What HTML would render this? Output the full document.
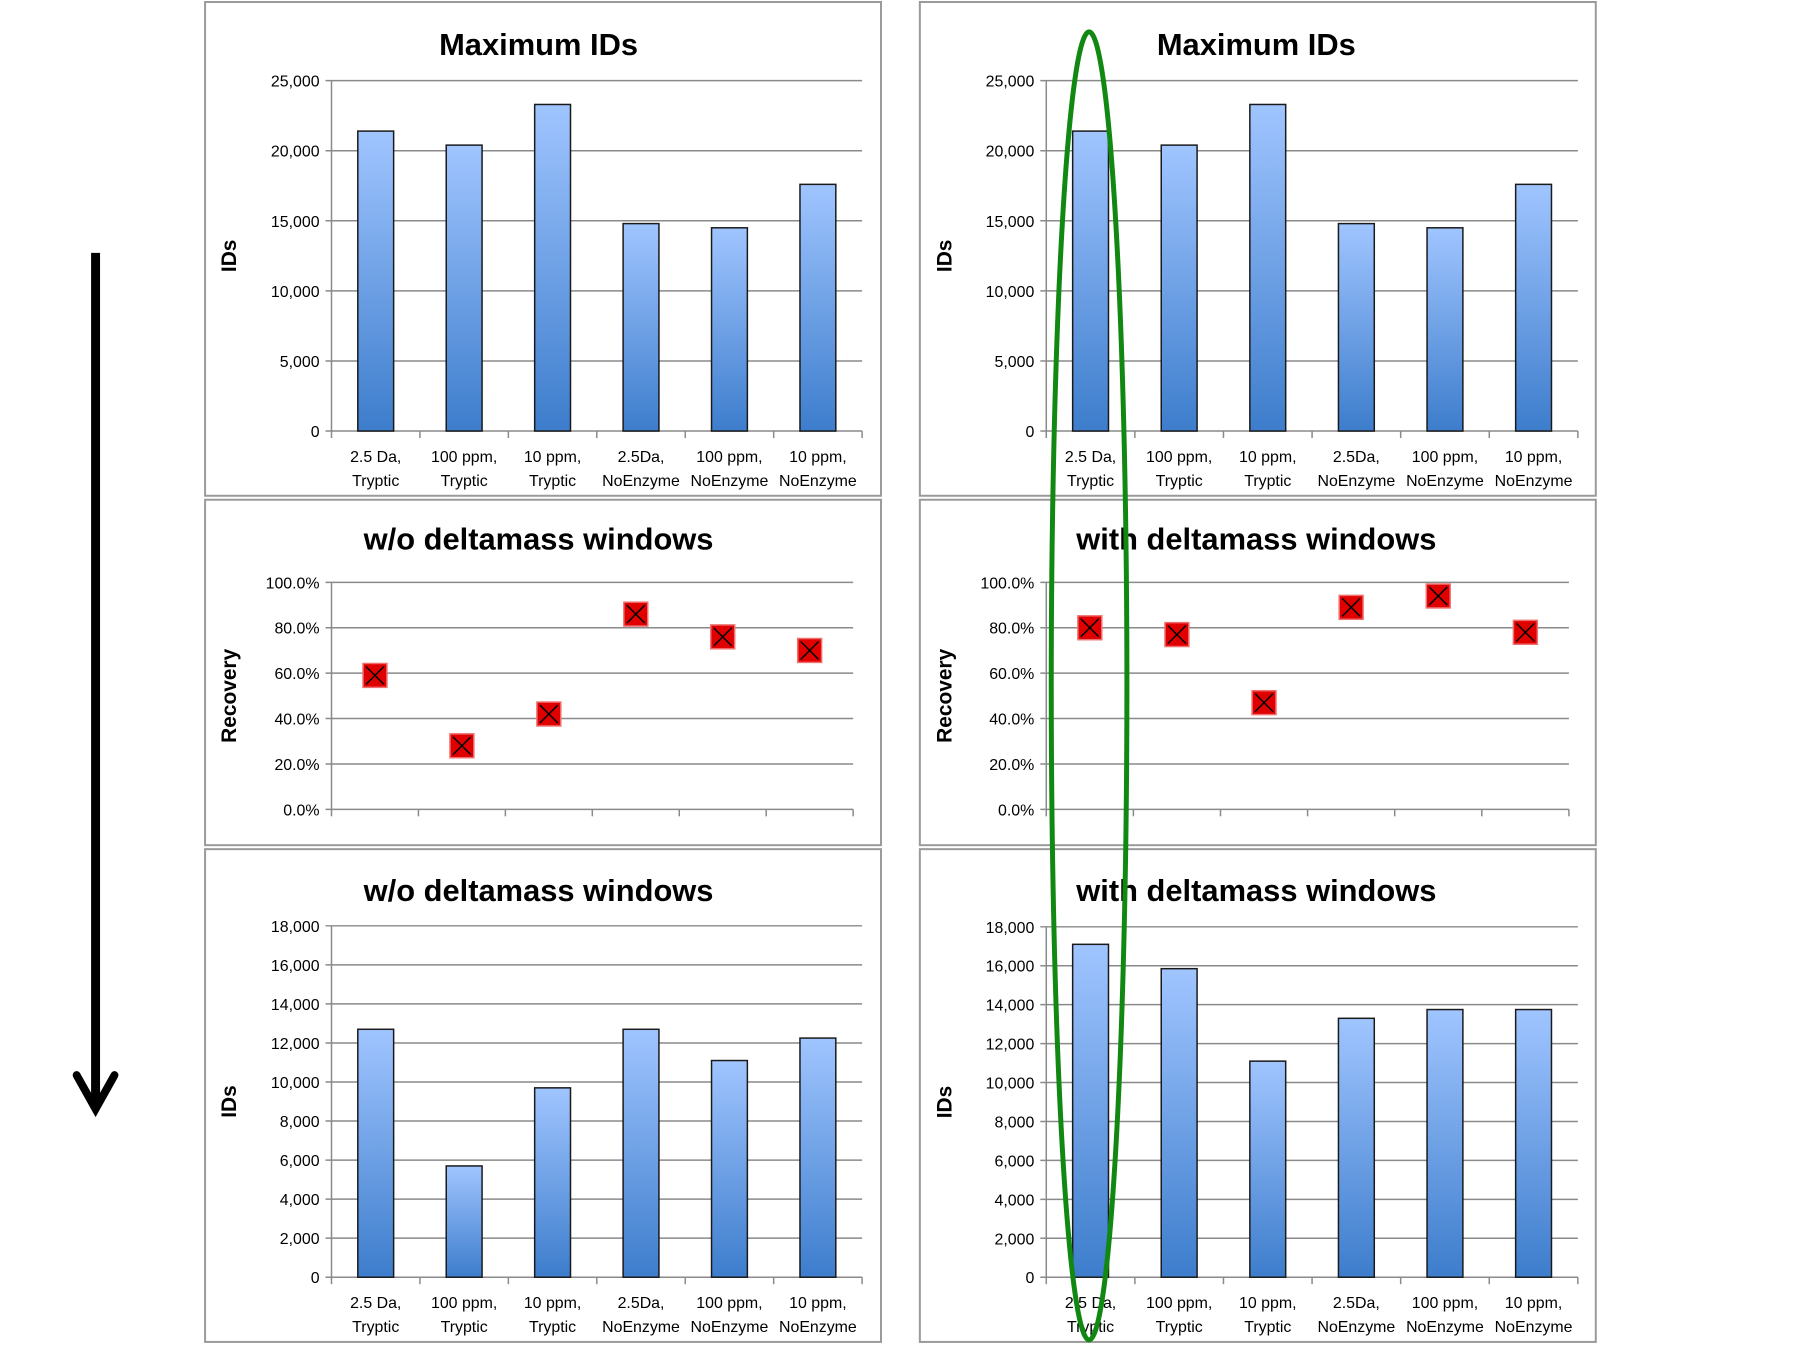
<!DOCTYPE html>
<html><head><meta charset="utf-8"><style>
html,body{margin:0;padding:0;background:#fff;width:1800px;height:1350px;overflow:hidden}
svg text{font-family:"Liberation Sans",sans-serif}
</style></head><body>
<svg width="1800" height="1350" viewBox="0 0 1800 1350">
<defs>
<linearGradient id="bg" x1="0" y1="0" x2="0" y2="1"><stop offset="0" stop-color="#a0c5ff"/><stop offset="1" stop-color="#3d7dcc"/></linearGradient>
</defs>
<g id="s" transform="scale(0.9955)"></g>
</svg>
<script>
const categories=["2.5 Da,|Tryptic","100 ppm,|Tryptic","10 ppm,|Tryptic","2.5Da,|NoEnzyme","100 ppm,|NoEnzyme","10 ppm,|NoEnzyme"];
const maxIdsLeft=[21400,20400,23300,14800,14500,17600];
const maxIdsRight=[21400,20400,23300,14800,14500,17600];
const recoveryLeft=[59,28,42,86,76,70];
const recoveryRight=[80,77,47,89,94,78];
const idsLeft=[12700,5700,9700,12700,11100,12250];
const idsRight=[17100,15850,11100,13300,13750,13750];
const ticksMax=[0,5000,10000,15000,20000,25000];
const ticksRec=[0,20,40,60,80,100];
const ticksIds=[0,2000,4000,6000,8000,10000,12000,14000,16000,18000];

const S=document.getElementById('s');
const NS='http://www.w3.org/2000/svg';
function el(tag,attrs,parent){const e=document.createElementNS(NS,tag);for(const k in attrs)e.setAttribute(k,attrs[k]);(parent||S).appendChild(e);return e;}
function txt(str,attrs,parent){const t=el('text',attrs,parent);t.textContent=str;return t;}
function fmt(v){return v.toLocaleString('en-US');}

function chart(o){
  const g=el('g',{});
  
  
  const frame=el('rect',{x:o.bx,y:o.by,width:o.bw,height:o.bh,fill:'#fff',stroke:'#9a9a9a','stroke-width':2},g);
  
  
  const ti=txt(o.title,{x:o.tx,y:o.ty,'font-size':31,'font-weight':'bold','text-anchor':'middle'},g);
  
  
  const ymax=o.ticks[o.ticks.length-1];
  const yS=v=>o.y0-(v/ymax)*(o.y0-o.y1);
  const cw=(o.x1-o.x0)/categories.length;
  const xS=i=>o.x0+cw*(i+0.5);
  o.ticks.forEach(t=>{
    const y=yS(t);
    const gl=el('line',{x1:o.x0-6,x2:o.x1,y1:y,y2:y,stroke:'#8a8a8a','stroke-width':1.5},g);
    
    
    const tl=txt(o.pct?t.toFixed(1)+'%':fmt(t),{x:o.x0-12,y:y+6,'font-size':16,'text-anchor':'end'},g);
    
    
  });
  el('line',{x1:o.x0,x2:o.x0,y1:o.y1,y2:o.y0+1,stroke:'#8a8a8a','stroke-width':1.5},g);
  for(let i=0;i<=categories.length;i++){const x=o.x0+cw*i;el('line',{x1:x,x2:x,y1:o.y0,y2:o.y0+7,stroke:'#8a8a8a','stroke-width':1.5},g);}
  const yt=txt(o.ylab,{x:0,y:0,'font-size':21,'font-weight':'bold','text-anchor':'middle',transform:`translate(${o.yx},${(o.y0+o.y1)/2}) rotate(-90)`},g);
  
  
  if(!o.pct){
    categories.forEach((c,i)=>{
      const p=c.split('|');
      const a=txt(p[0],{x:xS(i),y:o.y0+31,'font-size':16,'text-anchor':'middle'},g);
      
      
      const b=txt(p[1],{x:xS(i),y:o.y0+55,'font-size':16,'text-anchor':'middle'},g);
      
      
    });
    o.data.forEach((v,i)=>{
      const r=el('rect',{x:xS(i)-18,y:yS(v),width:36,height:o.y0-yS(v),fill:'url(#bg)',stroke:'#1a1a1a','stroke-width':1.5},g);
      
      
    });
  } else {
    o.data.forEach((v,i)=>{
      const cx=xS(i),cy=yS(v),h=12;
      const m=el('g',{},g);
      
      
      el('rect',{x:cx-h,y:cy-h,width:2*h,height:2*h,fill:'#e00000',stroke:'#f07070','stroke-width':1.5},m);
      el('path',{d:`M${cx-9} ${cy-9}L${cx+9} ${cy+9}M${cx+9} ${cy-9}L${cx-9} ${cy+9}`,stroke:'#000','stroke-width':1.5},m);
    });
  }
}
const L={bx:206,x0:333,x1:866,tx:541,yx:237};
const R={bx:924,x0:1051,x1:1585,tx:1262,yx:956};
chart(Object.assign({},L,{name:'max-ids-left',by:2,bw:679,bh:496,title:'Maximum IDs',ty:55,y0:433,y1:81,ticks:ticksMax,data:maxIdsLeft,ylab:'IDs'}));
chart(Object.assign({},R,{name:'max-ids-right',by:2,bw:679,bh:496,title:'Maximum IDs',ty:55,y0:433,y1:81,ticks:ticksMax,data:maxIdsRight,ylab:'IDs'}));
chart(Object.assign({},L,{name:'recovery-left',by:502,bw:679,bh:347,title:'w/o deltamass windows',ty:552,y0:813,y1:585,x1:857,ticks:ticksRec,data:recoveryLeft,ylab:'Recovery',pct:true}));
chart(Object.assign({},R,{name:'recovery-right',by:502,bw:679,bh:347,title:'with deltamass windows',ty:552,y0:813,y1:585,x1:1576,ticks:ticksRec,data:recoveryRight,ylab:'Recovery',pct:true}));
chart(Object.assign({},L,{name:'ids-left',by:853,bw:679,bh:495,title:'w/o deltamass windows',ty:905,y0:1283,y1:930,ticks:ticksIds,data:idsLeft,ylab:'IDs'}));
chart(Object.assign({},R,{name:'ids-right',by:853,bw:679,bh:495,title:'with deltamass windows',ty:905,y0:1283,y1:931,ticks:ticksIds,data:idsRight,ylab:'IDs'}));

const arrow=el('g',{});


el('line',{x1:96,y1:254,x2:96,y2:1112,stroke:'#000','stroke-width':9},arrow);
el('polyline',{points:'77,1080 96,1114 115,1080',fill:'none',stroke:'#000','stroke-width':8,'stroke-linecap':'round','stroke-linejoin':'miter'},arrow);

const ell=el('ellipse',{cx:1094,cy:689,rx:38,ry:657,fill:'none',stroke:'#118811','stroke-width':5});


</script>
</body></html>
